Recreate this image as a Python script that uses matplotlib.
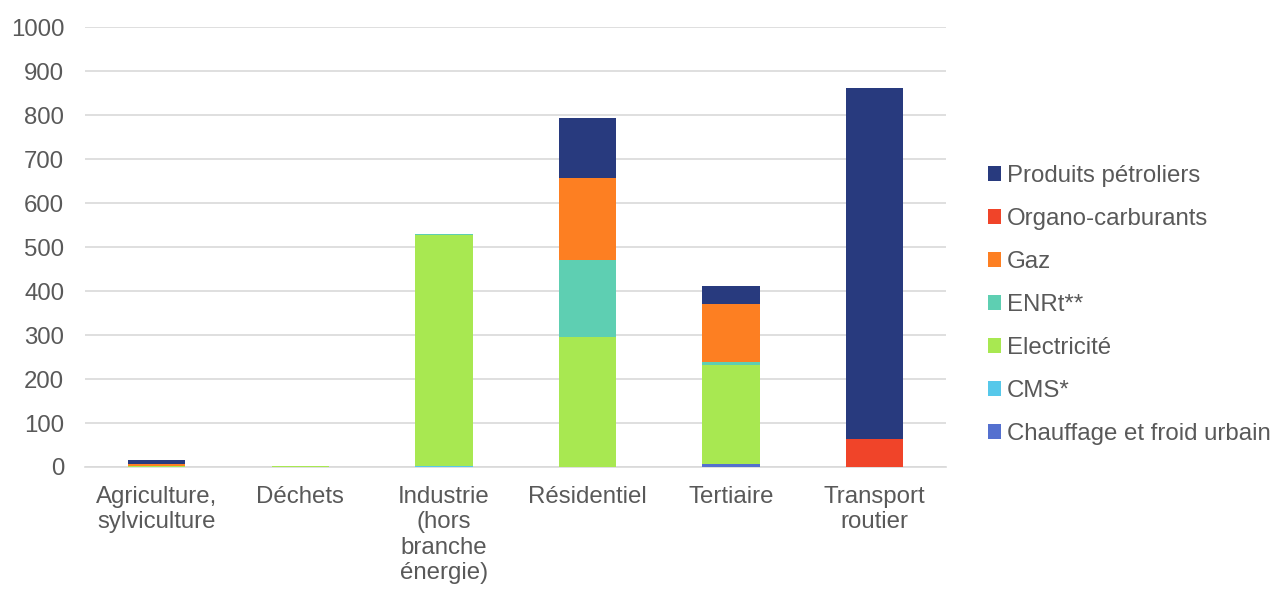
import matplotlib
matplotlib.use("Agg")
import matplotlib.pyplot as plt
from matplotlib.patches import Patch
import numpy as np

plt.rcParams['font.family'] = ['Liberation Sans', 'DejaVu Sans']

categories = ["Agriculture,\nsylviculture", "Déchets", "Industrie\n(hors\nbranche\nénergie)",
              "Résidentiel", "Tertiaire", "Transport\nroutier"]

# stacked bottom -> top
chauffage = [0, 0, 1, 0, 6, 0]
cms = [0, 0, 1, 0, 1, 0]
electricite = [2, 3, 525, 295, 226, 0]
enrt = [1, 0, 2, 175, 6, 0]
gaz = [3, 0, 0, 187, 131, 0]
organo = [0, 0, 0, 0, 0, 64]
petroliers = [9, 0, 0, 136, 41, 797]

series = [
    ("Chauffage et froid urbain", chauffage, "#5470cf"),
    ("CMS*", cms, "#56c8ea"),
    ("Electricité", electricite, "#a8e851"),
    ("ENRt**", enrt, "#5ecfb2"),
    ("Gaz", gaz, "#fd7f22"),
    ("Organo-carburants", organo, "#f04429"),
    ("Produits pétroliers", petroliers, "#283a7e"),
]

FS = 17.3

fig = plt.figure(figsize=(12.71, 5.90), dpi=100)
ax = fig.add_axes([0.0669, 0.2085, 0.6775, 0.7455])

x = np.arange(len(categories))
bottom = np.zeros(len(categories))
for name, vals, col in series:
    v = np.array(vals, dtype=float)
    ax.bar(x, v, 0.4, bottom=bottom, color=col, zorder=3, linewidth=0)
    bottom += v

ax.set_xlim(-0.5, len(categories) - 0.5)
ax.set_ylim(0, 1000)
ax.set_yticks(np.arange(0, 1001, 100))
ax.yaxis.grid(True, color="#d9d9d9", linewidth=1.2, zorder=0)
ax.set_axisbelow(True)
for s in ["top", "right", "left"]:
    ax.spines[s].set_visible(False)
ax.spines["bottom"].set_color("#d9d9d9")
ax.spines["bottom"].set_linewidth(1.2)
ax.tick_params(axis="both", length=0, labelsize=FS, colors="#595959")
ax.tick_params(axis="y", pad=15)
ax.tick_params(axis="x", pad=14)
ax.set_xticks(x)
ax.set_xticklabels(categories, linespacing=1.18)

handles = [Patch(facecolor=c, label=n) for n, _, c in series[::-1]]
fig.legend(handles=handles, loc="center left", bbox_to_anchor=(0.760, 0.483),
           frameon=False, fontsize=FS, labelcolor="#595959",
           handlelength=0.55, handleheight=0.55, handletextpad=0.25,
           labelspacing=0.875)

fig.savefig("out.png", dpi=100)
